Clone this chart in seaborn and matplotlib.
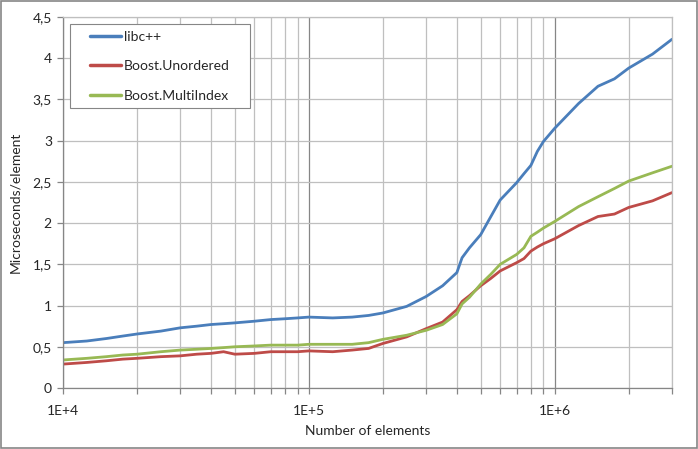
import matplotlib
matplotlib.use("Agg")
import matplotlib.pyplot as plt
import matplotlib.ticker as mticker
from matplotlib.patches import Rectangle
import numpy as np
import pandas as pd
import seaborn as sns

# number of elements (x), sampled along the curves
N_ELEMENTS = [1e4, 1.25e4, 1.5e4, 1.75e4, 2e4, 2.5e4, 3e4, 3.5e4, 4e4, 4.5e4,
              5e4, 6e4, 7e4, 8e4, 9e4, 1e5, 1.25e5, 1.5e5, 1.75e5, 2e5,
              2.5e5, 3e5, 3.5e5, 4e5, 4.2e5, 4.5e5, 5e5, 5.5e5, 6e5, 7e5,
              7.5e5, 8e5, 8.5e5, 9e5, 1e6, 1.25e6, 1.5e6, 1.75e6, 2e6, 2.5e6, 3e6]

LIBCXX = [0.55, 0.57, 0.60, 0.63, 0.655, 0.69, 0.73, 0.75, 0.77, 0.78,
          0.79, 0.81, 0.83, 0.84, 0.85, 0.86, 0.85, 0.86, 0.88, 0.91,
          0.99, 1.11, 1.24, 1.40, 1.58, 1.70, 1.86, 2.08, 2.28, 2.49,
          2.60, 2.70, 2.87, 2.99, 3.15, 3.45, 3.66, 3.75, 3.88, 4.05, 4.23]

UNORDERED = [0.29, 0.31, 0.33, 0.35, 0.36, 0.38, 0.39, 0.41, 0.42, 0.44,
             0.41, 0.42, 0.44, 0.44, 0.44, 0.45, 0.44, 0.46, 0.48, 0.54,
             0.62, 0.72, 0.80, 0.95, 1.05, 1.12, 1.24, 1.33, 1.42, 1.52,
             1.57, 1.66, 1.71, 1.75, 1.81, 1.97, 2.08, 2.11, 2.19, 2.27, 2.37]

MULTIINDEX = [0.34, 0.36, 0.38, 0.40, 0.41, 0.44, 0.46, 0.47, 0.48, 0.49,
              0.50, 0.51, 0.52, 0.52, 0.52, 0.53, 0.53, 0.53, 0.55, 0.59,
              0.64, 0.70, 0.77, 0.90, 1.02, 1.10, 1.26, 1.38, 1.50, 1.62,
              1.70, 1.84, 1.89, 1.94, 2.02, 2.20, 2.32, 2.42, 2.51, 2.61, 2.69]

SERIES = ["libc++", "Boost.Unordered", "Boost.MultiIndex"]
COLORS = ["#4A7EBB", "#BE4B48", "#98B954"]

W, H = 698, 449


def decimal_comma(v, pos):
    return f"{v:g}".replace(".", ",")


def main() -> None:
    sns.set_theme(style="white")
    plt.rcParams["font.family"] = ["Lato", "DejaVu Sans"]

    df = pd.concat([
        pd.DataFrame({"n": N_ELEMENTS, "us": LIBCXX, "impl": SERIES[0]}),
        pd.DataFrame({"n": N_ELEMENTS, "us": UNORDERED, "impl": SERIES[1]}),
        pd.DataFrame({"n": N_ELEMENTS, "us": MULTIINDEX, "impl": SERIES[2]}),
    ], ignore_index=True)

    fig = plt.figure(figsize=(W / 100, H / 100), dpi=100)
    fig.patch.set_facecolor("white")
    ax = fig.add_axes([63 / W, 61 / H, 609 / W, 371 / H])

    ax.set_xscale("log")
    ax.set_xlim(1e4, 3e6)
    ax.set_ylim(0, 4.5)

    ax.xaxis.set_major_locator(mticker.LogLocator(base=10, numticks=10))
    ax.xaxis.set_minor_locator(mticker.LogLocator(base=10, subs=np.arange(2, 10), numticks=20))
    ax.xaxis.set_major_formatter(mticker.FuncFormatter(lambda v, p: f"1E+{int(round(np.log10(v)))}"))
    ax.xaxis.set_minor_formatter(mticker.NullFormatter())
    ax.yaxis.set_major_locator(mticker.MultipleLocator(0.5))
    ax.yaxis.set_major_formatter(mticker.FuncFormatter(decimal_comma))

    ax.grid(True, which="minor", axis="x", color="#BFBFBF", linewidth=0.9)
    ax.grid(True, which="major", axis="x", color="#868686", linewidth=0.9)
    ax.grid(True, which="major", axis="y", color="#BFBFBF", linewidth=0.9)
    ax.set_axisbelow(True)

    sns.lineplot(data=df, x="n", y="us", hue="impl", hue_order=SERIES,
                 palette=COLORS, linewidth=2.0, ax=ax, legend=True)

    for side in ["top", "right"]:
        ax.spines[side].set_color("#BFBFBF")
        ax.spines[side].set_linewidth(0.9)
    for side in ["left", "bottom"]:
        ax.spines[side].set_color("#868686")
        ax.spines[side].set_linewidth(0.9)

    ax.tick_params(axis="x", which="both", direction="out", length=4, width=0.9,
                   color="#868686", bottom=True, pad=8, labelsize=10)
    ax.tick_params(axis="y", which="major", direction="out", length=4, width=0.9,
                   color="#868686", left=True, pad=4, labelsize=10)

    ax.set_xlabel("Number of elements", fontsize=10, labelpad=6)
    ax.set_ylabel("Microseconds/element", fontsize=10, labelpad=8)

    # legend: entries without frame, box drawn separately (Excel-like padding)
    leg = ax.legend(loc="upper left", bbox_to_anchor=(90 / W, 1 - 31 / H),
                    bbox_transform=fig.transFigure, borderaxespad=0, borderpad=0,
                    fontsize=10, frameon=False, handlelength=2.25,
                    handletextpad=0.2, labelspacing=1.25)
    for line in leg.get_lines():
        line.set_linewidth(2.5)
    leg.set_zorder(6)
    ax.add_patch(Rectangle((70 / W, 1 - 108 / H), 180 / W, 84 / H,
                           transform=fig.transFigure, clip_on=False, facecolor="white",
                           edgecolor="#868686", linewidth=0.8, zorder=5))

    # chart area border
    fig.patches.append(Rectangle((0.001, 0.002), 0.997, 0.995, transform=fig.transFigure,
                                 fill=False, edgecolor="#868686", linewidth=1.2))

    fig.savefig("out.png", dpi=100)
    plt.close(fig)


if __name__ == "__main__":
    main()
